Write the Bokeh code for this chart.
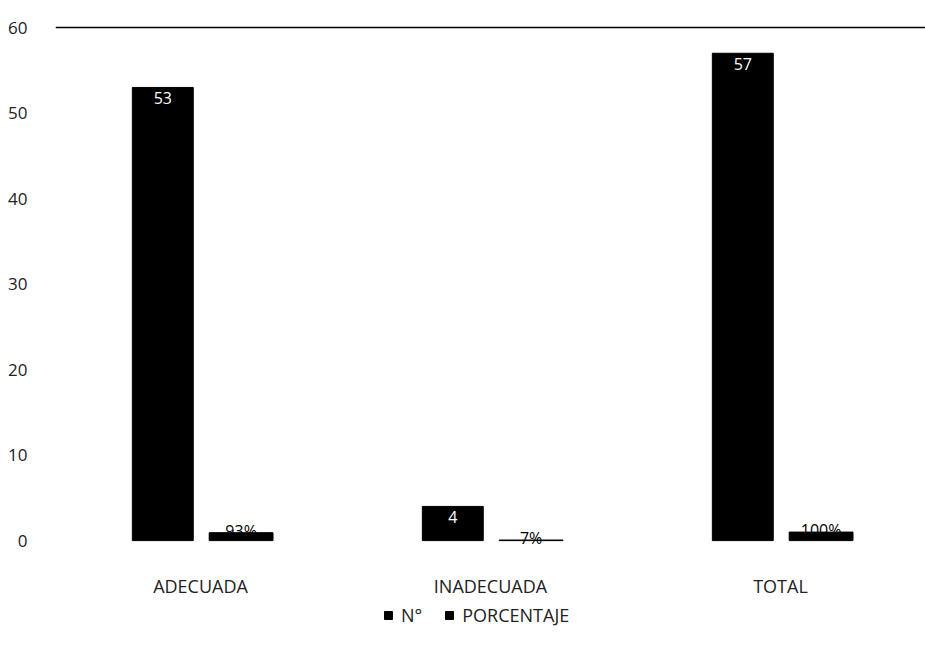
from bokeh.plotting import figure
from bokeh.models import (ColumnDataSource, FactorRange, Range1d, FixedTicker,
                          Legend, LegendItem, LabelSet)
from bokeh.core.properties import value
from bokeh.transform import dodge
from bokeh.embed import file_html
from bokeh.resources import INLINE

# Values per category
categories = ["ADECUADA", "INADECUADA", "TOTAL"]
n_values = [53, 4, 57]
pct_values = [0.93, 0.07, 1.00]
pct_labels = ["93%", "7%", "100%"]
y_ticks = [0, 10, 20, 30, 40, 50, 60]

FONT = "Open Sans"
FSIZE = "16px"
CAT_SIZE = "18px"

source = ColumnDataSource(data=dict(
    cat=categories,
    n=n_values,
    n_txt=[str(v) for v in n_values],
    pct=pct_values,
    pct_txt=pct_labels,
))

# The frame runs to the bottom edge; the space under zero holds the
# category names and the legend.
p = figure(
    width=925, height=647,
    x_range=FactorRange(*categories, range_padding=0),
    y_range=Range1d(-12.5, 62),
    output_backend="svg", toolbar_location=None,
    min_border_left=55, min_border_right=0, min_border_top=10, min_border_bottom=0,
    x_axis_location=None,
)

bar_n = p.vbar(x=dodge("cat", -0.13, range=p.x_range), top="n", width=0.21,
               source=source, fill_color="black", line_color="black")
bar_p = p.vbar(x=dodge("cat", 0.14, range=p.x_range), top="pct", width=0.22,
               source=source, fill_color="black", line_color="black")

# Count labels inside the top of each count bar
p.add_layout(LabelSet(x=dodge("cat", -0.13, range=p.x_range), y="n", text="n_txt",
                      source=source, text_align="center", text_baseline="top",
                      y_offset=-5, text_color="white", text_font=value(FONT),
                      text_font_size=FSIZE))
# Percentage labels on the small bars
p.add_layout(LabelSet(x=dodge("cat", 0.14, range=p.x_range), y="pct", text="pct_txt",
                      source=source, text_align="center", text_baseline="middle",
                      y_offset=2, text_color="black", text_font=value(FONT),
                      text_font_size=FSIZE))
# Category names under the zero line
p.add_layout(LabelSet(x="cat", y=0, text="cat", source=source,
                      text_align="center", text_baseline="middle", y_offset=-45,
                      text_color="#222222", text_font=value(FONT),
                      text_font_size=CAT_SIZE))

# Value axis
p.yaxis.ticker = FixedTicker(ticks=y_ticks)
p.yaxis.axis_line_color = None
p.yaxis.major_tick_line_color = None
p.yaxis.minor_tick_line_color = None
p.yaxis.major_label_standoff = 22
p.yaxis.major_label_text_font = FONT
p.yaxis.major_label_text_font_size = "17px"
p.yaxis.major_label_text_color = "#222222"

# Only the top gridline is shown
p.xgrid.grid_line_color = None
p.ygrid.ticker = FixedTicker(ticks=[60])
p.ygrid.grid_line_color = "black"
p.ygrid.grid_line_width = 1.5

p.outline_line_color = None

legend = Legend(items=[LegendItem(label="N°", renderers=[bar_n]),
                       LegendItem(label="PORCENTAJE", renderers=[bar_p])],
                orientation="horizontal", location=(328, 20),
                label_text_font=FONT, label_text_font_size=CAT_SIZE,
                label_text_color="#222222",
                glyph_width=10, glyph_height=10, spacing=22,
                label_standoff=8, label_height=18,
                border_line_color=None, background_fill_alpha=0,
                margin=0, padding=0)
p.add_layout(legend, "center")

open("out.html", "w").write(file_html(p, INLINE))
